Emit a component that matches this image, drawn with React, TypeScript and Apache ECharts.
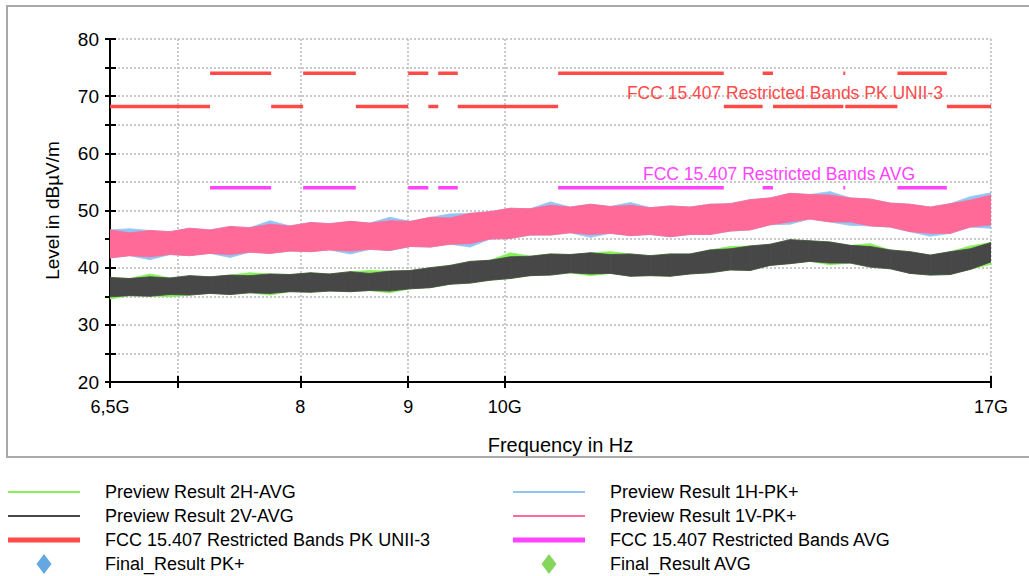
import React, { useEffect, useRef } from 'react';
import * as echarts from 'echarts';

// ---- data ----
const freqGHz = [
  6.5, 6.64, 6.79, 6.94, 7.09,
  7.25, 7.41, 7.57, 7.74, 7.91,
  8.09, 8.26, 8.45, 8.63, 8.82,
  9.02, 9.22, 9.42, 9.63, 9.84,
  10.06, 10.28, 10.51, 10.74, 10.98,
  11.22, 11.47, 11.72, 11.98, 12.24,
  12.51, 12.79, 13.07, 13.36, 13.65,
  13.95, 14.26, 14.58, 14.9, 15.23,
  15.56, 15.91, 16.26, 16.62, 17.0,
];

// Preview Result 1V-PK+ (pink) envelope
const pk1VTop = [
  46.6, 46.1, 46.5, 46.3, 46.9,
  46.6, 47.2, 47.0, 47.6, 47.3,
  47.9, 47.7, 48.1, 47.8, 48.2,
  48.1, 48.8, 48.7, 49.5, 49.8,
  50.4, 50.3, 50.9, 50.6, 51.1,
  50.7, 50.9, 50.5, 50.8, 50.6,
  51.1, 51.2, 51.9, 52.2, 53.0,
  52.8, 52.7, 52.2, 52.0, 51.3,
  51.1, 50.6, 51.2, 51.8, 52.7,
];
const pk1VBottom = [
  41.7, 42.1, 41.9, 42.3, 42.1,
  42.5, 42.3, 42.7, 42.5, 42.9,
  42.8, 43.1, 42.9, 43.2, 43.0,
  43.7, 43.6, 44.1, 44.2, 45.0,
  45.1, 45.7, 45.7, 46.1, 45.8,
  46.0, 45.6, 45.8, 45.4, 45.8,
  45.8, 46.4, 46.6, 47.5, 48.0,
  48.5, 48.0, 48.0, 47.3, 47.1,
  46.3, 46.0, 46.0, 47.1, 47.5,
];
// Preview Result 1H-PK+ (light blue) envelope
const pk1HTop = [
  46.6, 46.8, 46.5, 46.3, 46.9,
  46.6, 47.2, 47.0, 48.2, 47.3,
  47.9, 47.7, 48.1, 47.8, 48.8,
  48.1, 48.8, 49.4, 49.5, 49.8,
  50.4, 50.3, 51.5, 50.6, 51.1,
  50.7, 51.4, 50.5, 50.8, 50.6,
  51.1, 51.2, 51.9, 52.2, 53.0,
  52.8, 53.3, 52.2, 52.0, 51.3,
  51.1, 50.6, 51.2, 52.4, 53.1,
];
const pk1HBottom = [
  41.7, 42.1, 41.4, 42.3, 42.1,
  42.5, 41.8, 42.7, 42.5, 42.9,
  42.8, 43.1, 42.4, 43.2, 43.0,
  43.7, 43.6, 44.1, 43.6, 45.0,
  45.1, 45.7, 45.7, 46.1, 45.3,
  46.0, 45.6, 45.8, 45.4, 45.8,
  45.8, 46.4, 46.6, 47.5, 47.6,
  48.5, 48.0, 47.4, 47.3, 47.1,
  46.3, 45.5, 46.0, 47.1, 46.9,
];
// Preview Result 2V-AVG (dark grey) envelope
const avg2VTop = [
  38.3, 38.1, 38.4, 38.2, 38.6,
  38.4, 38.7, 38.6, 38.9, 38.8,
  39.1, 38.9, 39.3, 39.0, 39.4,
  39.5, 40.0, 40.4, 41.1, 41.3,
  41.9, 42.0, 42.4, 42.3, 42.6,
  42.3, 42.4, 42.1, 42.4, 42.4,
  43.1, 43.3, 43.8, 44.1, 44.9,
  44.7, 44.5, 43.9, 43.7, 43.1,
  42.8, 42.2, 42.8, 43.3, 44.4,
];
const avg2VBottom = [
  34.9, 35.1, 35.0, 35.3, 35.2,
  35.5, 35.3, 35.6, 35.5, 35.8,
  35.7, 35.9, 35.8, 36.0, 35.9,
  36.3, 36.5, 37.1, 37.3, 37.8,
  38.1, 38.6, 38.7, 39.1, 38.9,
  39.0, 38.5, 38.6, 38.5, 38.9,
  39.1, 39.6, 39.5, 40.4, 40.7,
  41.1, 40.8, 40.8, 40.1, 39.8,
  39.0, 38.7, 38.8, 39.7, 41.0,
];
// Preview Result 2H-AVG (light green) envelope
const avg2HTop = [
  38.3, 38.1, 38.9, 38.2, 38.6,
  38.4, 38.7, 39.1, 38.9, 38.8,
  39.1, 38.9, 39.3, 39.5, 39.4,
  39.5, 40.0, 40.4, 41.1, 41.3,
  42.6, 42.0, 42.4, 42.3, 42.6,
  42.8, 42.4, 42.1, 42.4, 42.4,
  43.1, 43.7, 43.8, 44.1, 44.9,
  44.7, 44.5, 43.9, 44.2, 43.1,
  42.8, 42.2, 42.8, 43.8, 44.4,
];
const avg2HBottom = [
  34.5, 35.1, 35.0, 34.9, 35.2,
  35.5, 35.3, 35.6, 35.2, 35.8,
  35.7, 35.9, 35.8, 36.0, 35.6,
  36.3, 36.5, 37.1, 37.3, 37.8,
  38.1, 38.6, 38.7, 39.1, 38.6,
  39.0, 38.5, 38.6, 38.5, 38.9,
  39.1, 39.6, 39.5, 40.4, 40.7,
  41.1, 40.5, 40.8, 40.1, 39.8,
  39.0, 38.7, 38.8, 39.7, 40.6,
];

// FCC 15.407 limits
const restrictedBandsGHz = [
  [7.25, 7.75], [8.025, 8.5], [9.0, 9.2], [9.3, 9.5],
  [10.6, 12.7], [13.25, 13.4], [14.47, 14.5], [15.35, 16.2],
];
const pkRestrictedLimit = 74;
const pkUnii3Limit = 68.2;
const avgRestrictedLimit = 54;

// axis ticks
const xMinGHz = 6.5;
const xMaxGHz = 17;
const xTickGHz = [6.5, 7, 8, 9, 10, 17];
const xTickLabels = ['6,5G', '', '8', '9', '10G', '17G'];

// ---- helpers ----
const FONT = "'Liberation Sans', Arial, sans-serif";

function bandSeries(name: string, bottom: number[], top: number[], color: string) {
  const n = Math.min(freqGHz.length, bottom.length, top.length);
  const data: number[][] = [];
  for (let i = 0; i < n - 1; i++) {
    data.push([freqGHz[i], bottom[i], top[i], freqGHz[i + 1], bottom[i + 1], top[i + 1]]);
  }
  return {
    name, type: 'custom', data, xAxisIndex: 0, yAxisIndex: 0, silent: true, clip: true,
    encode: { x: [0, 3], y: [1, 2, 4, 5] },
    itemStyle: { color },
    renderItem: (_params: any, api: any) => {
      const a = api.coord([api.value(0), api.value(1)]);
      const b = api.coord([api.value(0), api.value(2)]);
      const c = api.coord([api.value(3), api.value(5)]);
      const d = api.coord([api.value(3), api.value(4)]);
      return {
        type: 'polygon',
        shape: { points: [a, b, c, d] },
        style: { fill: color, stroke: color, lineWidth: 0.8 },
      };
    },
  };
}

function buildPkLine() {
  const out: any[] = [];
  let prev = xMinGHz;
  for (const [a, b] of restrictedBandsGHz) {
    out.push([prev, pkUnii3Limit], [a, pkUnii3Limit], [a, '-']);
    out.push([a, pkRestrictedLimit], [b, pkRestrictedLimit], [b, '-']);
    prev = b;
  }
  out.push([prev, pkUnii3Limit], [xMaxGHz, pkUnii3Limit]);
  return out;
}
function buildAvgLine() {
  const out: any[] = [];
  for (const [a, b] of restrictedBandsGHz) {
    out.push([a, avgRestrictedLimit], [b, avgRestrictedLimit], [b, '-']);
  }
  return out;
}

const C = {
  green: '#86f05a', grey: '#474747', blue: '#93c5f3', pink: '#ff6a98',
  red: '#ff4a4a', magenta: '#ff44ff', dBlue: '#3f91d9', dGreen: '#66cc33',
};

const thinLine = 'path://M0,0H72V2H0Z';
const thickLine = 'path://M0,0H72V5H0Z';
const diamond = 'path://M7.5,0L15,10L7.5,20L0,10Z';

const lg10 = (v: number) => Math.log10(v);
const xTickPos = xTickGHz.map(lg10);

function xLabel(v: number) {
  let best = 0;
  for (let i = 0; i < xTickPos.length; i++) {
    if (Math.abs(xTickPos[i] - v) < Math.abs(xTickPos[best] - v)) best = i;
  }
  return xTickLabels[best];
}

const legendCommon = {
  orient: 'vertical', top: 482, itemWidth: 72, itemHeight: 20, itemGap: 4, padding: 0,
  selectedMode: false, icon: 'rect',
  textStyle: { fontSize: 18, color: '#000', fontFamily: FONT, lineHeight: 20, padding: [0, 0, 0, 20] },
};

const option: any = {
  animation: false,
  backgroundColor: '#fff',
  grid: { left: 110, right: 38, top: 39, bottom: 194, containLabel: false },
  xAxis: [
    {
      type: 'log', logBase: 10, min: xMinGHz, max: xMaxGHz, position: 'top', show: false,
    },
    {
      type: 'value', min: lg10(xMinGHz), max: lg10(xMaxGHz), position: 'bottom',
      name: 'Frequency in Hz', nameLocation: 'middle', nameGap: 53,
      nameTextStyle: { fontSize: 20, color: '#000', fontFamily: FONT, padding: [0, 0, 0, 20] },
      axisLine: { show: true, lineStyle: { color: '#000', width: 2 } },
      axisTick: { show: true, inside: false, length: 6, customValues: xTickPos, lineStyle: { color: '#000', width: 2 } },
      axisLabel: {
        show: true, customValues: xTickPos, formatter: xLabel, margin: 16,
        fontSize: 18, color: '#000', fontFamily: FONT, showMinLabel: true, showMaxLabel: true,
      },
      splitLine: { show: true, lineStyle: { color: '#b9b9b9', width: 1.5, type: [2, 2] } },
    },
    {
      type: 'value', min: lg10(xMinGHz), max: lg10(xMaxGHz), position: 'bottom',
      axisLine: { show: false },
      axisTick: { show: true, inside: true, length: 6, customValues: xTickPos, lineStyle: { color: '#000', width: 2 } },
      axisLabel: { show: false },
      splitLine: { show: false },
    },
  ],
  yAxis: [
    {
      type: 'value', min: 20, max: 80, interval: 5,
      name: 'Level in dBµV/m', nameLocation: 'middle', nameGap: 48,
      nameTextStyle: { fontSize: 19, color: '#000', fontFamily: FONT },
      axisLine: { show: true, lineStyle: { color: '#000', width: 2 } },
      axisTick: { show: true, inside: false, length: 5, lineStyle: { color: '#000', width: 2 } },
      axisLabel: {
        fontSize: 19, color: '#000', fontFamily: FONT, margin: 11,
        formatter: (v: number) => (v % 10 === 0 ? String(v) : ''),
      },
      splitLine: { show: true, lineStyle: { color: '#b9b9b9', width: 1.5, type: [2, 2] } },
    },
    {
      type: 'value', min: 20, max: 80, interval: 5, position: 'left',
      axisLine: { show: false },
      axisTick: { show: true, inside: true, length: 6, lineStyle: { color: '#000', width: 2 } },
      axisLabel: { show: false },
      splitLine: { show: false },
    },
  ],
  legend: [
    {
      ...legendCommon, left: 8,
      data: [
        { name: 'Preview Result 2H-AVG', icon: thinLine, itemStyle: { color: C.green } },
        { name: 'Preview Result 2V-AVG', icon: thinLine, itemStyle: { color: C.grey } },
        { name: 'FCC 15.407 Restricted Bands PK UNII-3', icon: thickLine, itemStyle: { color: C.red } },
        { name: 'Final_Result PK+', icon: diamond, itemStyle: { color: C.dBlue } },
      ],
    },
    {
      ...legendCommon, left: 513,
      data: [
        { name: 'Preview Result 1H-PK+', icon: thinLine, itemStyle: { color: C.blue } },
        { name: 'Preview Result 1V-PK+', icon: thinLine, itemStyle: { color: C.pink } },
        { name: 'FCC 15.407 Restricted Bands AVG', icon: thickLine, itemStyle: { color: C.magenta } },
        { name: 'Final_Result AVG', icon: diamond, itemStyle: { color: C.dGreen } },
      ],
    },
  ],
  series: [
    bandSeries('Preview Result 1H-PK+', pk1HBottom, pk1HTop, C.blue),
    bandSeries('Preview Result 1V-PK+', pk1VBottom, pk1VTop, C.pink),
    bandSeries('Preview Result 2H-AVG', avg2HBottom, avg2HTop, C.green),
    bandSeries('Preview Result 2V-AVG', avg2VBottom, avg2VTop, C.grey),
    {
      name: 'FCC 15.407 Restricted Bands PK UNII-3', type: 'line', data: buildPkLine(),
      xAxisIndex: 0, yAxisIndex: 0, symbol: 'none', silent: true, connectNulls: false,
      lineStyle: { color: C.red, width: 3.5 }, itemStyle: { color: C.red },
    },
    {
      name: 'FCC 15.407 Restricted Bands AVG', type: 'line', data: buildAvgLine(),
      xAxisIndex: 0, yAxisIndex: 0, symbol: 'none', silent: true, connectNulls: false,
      lineStyle: { color: C.magenta, width: 3.5 }, itemStyle: { color: C.magenta },
    },
    {
      name: 'Final_Result PK+', type: 'scatter', data: [], xAxisIndex: 0, yAxisIndex: 0,
      symbol: 'diamond', itemStyle: { color: C.dBlue },
    },
    {
      name: 'Final_Result AVG', type: 'scatter', data: [], xAxisIndex: 0, yAxisIndex: 0,
      symbol: 'diamond', itemStyle: { color: C.dGreen },
    },
  ],
  graphic: [
    {
      type: 'rect', z: -10, silent: true,
      shape: { x: 7, y: 6, width: 1040, height: 451 },
      style: { fill: 'none', stroke: '#a9a9a9', lineWidth: 2 },
    },
    {
      type: 'text', z: 100, silent: true, x: 943, y: 93,
      style: {
        text: 'FCC 15.407 Restricted Bands PK UNII-3', fill: C.red,
        fontSize: 17.5, fontFamily: FONT, align: 'right', verticalAlign: 'middle',
      },
    },
    {
      type: 'text', z: 100, silent: true, x: 915, y: 174,
      style: {
        text: 'FCC 15.407 Restricted Bands AVG', fill: C.magenta,
        fontSize: 17.5, fontFamily: FONT, align: 'right', verticalAlign: 'middle',
      },
    },
  ],
};

export default function App() {
  const ref = useRef<HTMLDivElement>(null);
  useEffect(() => {
    if (!ref.current) return;
    const chart = echarts.init(ref.current, null, { renderer: 'svg' });
    chart.setOption(option);
    return () => chart.dispose();
  }, []);
  return (
    <div
      ref={ref}
      style={{ position: 'fixed', left: 0, top: 0, width: 1029, height: 576, background: '#fff' }}
    />
  );
}
